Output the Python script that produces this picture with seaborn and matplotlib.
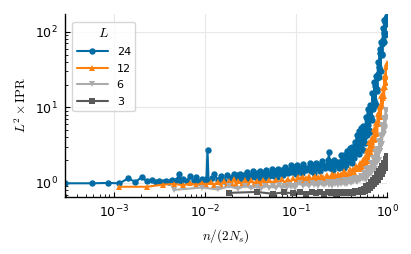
import pandas as pd
import seaborn as sns
import matplotlib.pyplot as plt

# system sizes, number of states 2*Ns for each L
sizes = [24, 12, 6, 3]
two_ns = {24: 3456, 12: 864, 6: 216, 3: 54}
colors = ["#006BA4", "#FF800E", "#ABABAB", "#595959"]
markers = ["o", "^", "v", "s"]

# state index n and L^2 * IPR
n_24 = [1, 2, 3, 4, 5, 6, 7, 8, 9, 10, 11, 12, 13, 14, 15, 16, 17, 18, 19, 20,
        22, 24, 26, 28, 30, 32, 34, 36, 37, 38,
        41, 44, 48, 52, 56, 60, 65,
        70, 73, 76, 79, 82, 85, 89, 93, 97, 101,
        105, 109, 113, 118, 123, 128, 133, 138, 144, 150,
        156, 162, 168, 175, 182, 189, 197, 205, 213, 222,
        231, 240, 250, 260, 270, 281, 292, 304, 316, 329,
        342, 356, 370, 385, 400, 416, 433, 450, 468, 487,
        506, 526, 547, 569, 592, 616, 641, 666, 693, 721,
        750, 780, 797, 811, 843, 877, 912, 948, 986, 1025,
        1060, 1082, 1104, 1126, 1148, 1170, 1192, 1214, 1236, 1258,
        1280, 1302, 1324, 1346, 1368, 1390, 1412, 1434, 1456, 1478,
        1500, 1522, 1544, 1566, 1588, 1610, 1632, 1654, 1676, 1698, 1720,
        1745, 1775, 1805, 1835, 1865, 1895, 1925, 1955, 1985, 2015, 2045, 2075,
        2105, 2135, 2165, 2195, 2225, 2255, 2285, 2315, 2345, 2375, 2405, 2435,
        2465, 2495, 2525, 2555, 2585, 2615, 2645, 2675, 2705, 2735, 2765, 2795,
        2825, 2855, 2885, 2915, 2945, 2975, 3005, 3035, 3065, 3095, 3125, 3155,
        3185, 3215, 3245, 3275, 3305, 3335, 3365, 3395, 3425, 3456]
ipr_24 = [0.99, 0.99, 1.00, 0.99, 1.15, 1.03, 1.19, 1.06, 1.09, 1.03, 1.07, 1.02,
          1.06, 1.04, 1.08, 1.03, 1.10, 1.30, 1.06, 1.14,
          1.07, 1.22, 1.05, 1.20, 1.04, 1.13, 1.05, 1.12, 2.73, 1.07,
          1.17, 1.30, 1.10, 1.23, 1.06, 1.28, 1.15,
          1.20, 1.33, 1.13, 1.27, 1.08, 1.33, 1.19, 1.27, 1.13, 1.39,
          1.24, 1.18, 1.27, 1.45, 1.19, 1.37, 1.12, 1.43, 1.26, 1.36,
          1.18, 1.49, 1.32, 1.24, 1.35, 1.55, 1.25, 1.46, 1.19, 1.54,
          1.35, 1.47, 1.27, 1.64, 1.44, 1.37, 1.49, 1.73, 1.38, 1.62,
          1.30, 1.72, 1.48, 1.60, 1.37, 1.80, 1.56, 1.47, 1.60, 1.86,
          1.46, 1.72, 1.37, 1.82, 1.58, 1.72, 1.46, 1.93, 1.67, 1.57,
          1.73, 2.04, 2.55, 1.58, 1.90, 1.48, 2.03, 1.73, 1.91, 1.59,
          1.90, 2.31, 1.72, 2.14, 1.58, 2.35, 1.93, 2.18, 1.75, 2.61,
          2.15, 1.98, 2.28, 2.87, 2.02, 2.63, 1.86, 2.98, 2.40, 2.81,
          2.15, 3.46, 2.78, 2.52, 3.20, 4.30, 2.68, 3.90, 2.42, 4.80, 3.31,
          3.54, 5.38, 3.00, 4.62, 2.72, 5.66, 3.89, 5.02, 3.40, 7.43, 5.01, 4.37,
          5.81, 9.62, 5.03, 8.32, 4.79, 10.7, 7.38, 9.86, 6.76, 15.5, 10.5, 9.44,
          12.7, 21.9, 11.3, 19.2, 10.8, 26.1, 17.7, 24.4, 16.7, 40.2, 27.5, 24.9,
          34.1, 59.3, 30.9, 53.1, 30.7, 72.8, 50.9, 68.9, 49.1, 111, 78.5, 72.9,
          95.5, 143, 91.8, 134, 96.8, 151, 128, 144, 133, 160]

n_12 = [1, 2, 3, 4, 5, 6, 7, 8, 9, 10,
        11, 12, 13, 14, 15, 16, 17, 18, 19, 20, 22, 24, 26, 28, 30, 32, 35, 38,
        41, 44, 48, 52, 56, 60, 65, 70, 75, 80, 86,
        88, 91, 94, 97, 100, 104, 108, 112, 116, 120, 124, 129,
        134, 139, 144, 149, 155, 161, 167, 173, 180, 187, 194, 201,
        209, 217, 225, 234, 243, 252, 262, 272, 282, 293, 304, 316,
        328, 340, 353, 366, 380, 394, 409, 424,
        432, 440, 448, 456, 464, 472, 480, 488, 496, 504, 512,
        520, 528, 536, 544, 552, 560, 568, 576, 584, 592, 600, 608,
        616, 624, 632, 640, 648, 656, 664, 672, 680, 688, 696, 704,
        712, 720, 728, 736, 744, 752, 760, 768, 776, 784, 792, 800,
        808, 816, 824, 832, 840, 848, 856, 864]
ipr_12 = [0.89, 0.89, 0.95, 0.97, 0.93, 0.99, 0.94, 1.00, 0.95, 1.02,
          0.95, 1.04, 0.94, 1.06, 0.96, 1.05, 0.97, 1.13, 0.96, 1.07, 0.97, 1.08,
          0.97, 1.09, 0.98, 1.07, 0.99, 1.10, 0.99, 1.09, 1.00, 1.11, 1.00, 1.12,
          1.01, 1.13, 1.02, 1.15, 1.03,
          1.12, 1.20, 1.07, 1.16, 1.04, 1.19, 1.10, 1.16, 1.07, 1.23, 1.14, 1.10,
          1.16, 1.25, 1.10, 1.20, 1.07, 1.24, 1.15, 1.20, 1.10, 1.29, 1.18, 1.15,
          1.21, 1.33, 1.16, 1.28, 1.13, 1.33, 1.22, 1.31, 1.20, 1.44, 1.32, 1.28,
          1.37, 1.54, 1.33, 1.52, 1.33, 1.68, 1.53, 1.69,
          1.81, 1.52, 1.79, 1.53, 2.01, 1.67, 2.01, 1.71, 2.20, 1.86, 2.22,
          2.71, 1.93, 2.65, 1.94, 3.43, 2.45, 3.36, 2.47, 3.95, 2.82, 3.90, 2.88,
          5.15, 3.71, 5.14, 3.80, 6.13, 4.42, 6.22, 4.59, 8.25, 5.97, 8.39, 6.22,
          10.1, 7.35, 10.4, 7.76, 14.1, 10.4, 14.6, 10.9, 17.9, 13.1, 18.7, 14.0,
          25.6, 18.8, 27.0, 20.7, 34.6, 25.8, 37.1, 39.0]

n_6 = [1, 2, 3, 4, 5, 6, 7, 8, 9, 10, 11, 12, 13, 14, 15, 16, 17, 18, 19, 20, 21,
       22, 24, 26, 28, 30, 32, 34, 36, 38, 40, 42, 44,
       46, 48, 50, 52, 54, 56, 58, 60, 62, 64, 66, 68,
       70, 72, 74, 76, 78, 80, 82, 84, 86, 88, 90, 92,
       94, 96, 98, 100, 102, 104, 106, 108, 110, 112, 114, 116, 118,
       120, 122, 124, 126, 128, 130, 132, 134, 136, 138, 140, 142,
       144, 146, 148, 150, 152, 154, 156, 158, 160, 162, 164, 166,
       168, 170, 172, 174, 176, 178, 180, 182, 184, 186, 188, 190,
       192, 194, 196, 198, 200, 202, 204, 206, 208, 210, 212, 214, 216]
ipr_6 = [0.81, 0.87, 0.82, 0.90, 0.84, 0.91, 0.85, 0.89, 0.84, 0.92, 0.86, 0.90,
         0.85, 0.93, 0.87, 0.91, 0.86, 0.94, 0.88, 0.92, 0.87,
         0.94, 0.99, 0.91, 0.97, 0.90, 0.99, 0.94, 0.97, 0.92, 1.01, 0.96, 0.94,
         0.97, 1.03, 0.94, 1.00, 0.92, 1.02, 0.97, 1.00, 0.95, 1.05, 0.99, 0.98,
         1.01, 1.08, 0.98, 1.05, 0.96, 1.08, 1.02, 1.06, 0.99, 1.12, 1.06, 1.04,
         1.08, 1.17, 1.05, 1.14, 1.03, 1.18, 1.10, 1.15, 1.08, 1.24, 1.17, 1.14, 1.20,
         1.36, 1.12, 1.34, 1.11, 1.52, 1.25, 1.49, 1.23, 1.60, 1.31, 1.58, 1.32,
         1.83, 1.51, 1.82, 1.51, 2.16, 1.54, 2.11, 1.51, 2.56, 1.85, 2.47, 1.81,
         2.79, 2.00, 2.76, 2.02, 3.51, 2.61, 3.55, 2.67, 4.20, 3.07, 4.37, 3.26,
         5.70, 4.26, 5.85, 4.43, 7.03, 5.15, 7.31, 5.44, 8.86, 7.02, 9.09, 7.47,
         9.30]

n_3 = [1, 2, 3, 4, 5, 6, 7, 8, 9, 10, 11, 12, 13, 14, 15, 16, 17, 18, 19, 20,
       21, 22, 23, 24, 25, 26, 27, 28, 29, 30, 31, 32, 33, 34, 35, 36, 37, 38, 39,
       40, 41, 42, 43, 44, 45, 46, 47, 48, 49, 50, 51, 52, 53, 54]
ipr_3 = [0.74, 0.76, 0.72, 0.75, 0.73, 0.77, 0.72, 0.76, 0.73, 0.75, 0.72, 0.77,
         0.73, 0.75, 0.72, 0.76, 0.73, 0.77, 0.73, 0.76, 0.74, 0.77, 0.74, 0.78,
         0.75, 0.79, 0.76, 0.80, 0.76, 0.84, 0.78, 0.90, 0.81, 0.95, 0.85, 1.02,
         0.90, 1.09, 0.96, 1.18, 1.02, 1.30, 1.10, 1.42, 1.20, 1.55, 1.30, 1.70,
         1.42, 1.86, 1.60, 2.05, 1.80, 2.30]

series = {24: (n_24, ipr_24), 12: (n_12, ipr_12), 6: (n_6, ipr_6), 3: (n_3, ipr_3)}

frames = []
for L in sizes:
    n, ipr = series[L]
    k = min(len(n), len(ipr))
    frames.append(pd.DataFrame({"L": str(L),
                                "x": [v / two_ns[L] for v in n[:k]],
                                "y": ipr[:k]}))
df = pd.concat(frames, ignore_index=True)

sns.set_theme(style="ticks", rc={
    "axes.grid": True,
    "grid.color": "#e8e8e8",
    "grid.linewidth": 0.8,
    "xtick.direction": "in",
    "ytick.direction": "in",
    "axes.linewidth": 1.0,
    "axes.edgecolor": "black",
    "axes.labelcolor": "black",
    "text.color": "black",
    "xtick.color": "black",
    "ytick.color": "black",
})
plt.rcParams["font.family"] = ["DejaVu Sans"]
plt.rcParams["mathtext.fontset"] = "cm"

fig, ax = plt.subplots(figsize=(4.11, 2.54), dpi=100)
for L, c, m in zip(sizes, colors, markers):
    d = df[df["L"] == str(L)]
    sns.lineplot(data=d, x="x", y="y", color=c, marker=m, markersize=4.6,
                 markeredgewidth=0, linewidth=1.5, estimator=None, sort=True,
                 label=str(L), ax=ax)

ax.set_xscale("log")
ax.set_yscale("log")
ax.set_xlim(1 / 3456, 1)
ax.set_ylim(0.66, 172)
ax.set_xlabel("$n/(2N_s)$", fontsize=9.5, labelpad=5)
ax.set_ylabel(r"$L^2 \times \mathrm{IPR}$", fontsize=9.5, labelpad=4)
ax.tick_params(which="major", labelsize=9, length=3.5, width=0.8, pad=5)
ax.tick_params(which="minor", length=2, width=0.6)
ax.grid(which="minor", visible=False)
sns.despine(ax=ax)

ax.legend(title="$L$", loc="upper left", fontsize=8, title_fontsize=10,
          handlelength=2.8, labelspacing=0.6, borderaxespad=0.7,
          edgecolor="#cccccc")

fig.subplots_adjust(left=0.157, right=0.942, bottom=0.226, top=0.945)
fig.savefig("out.png", dpi=100)
